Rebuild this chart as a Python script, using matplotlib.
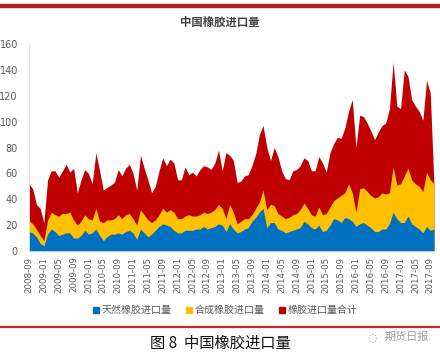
import matplotlib
matplotlib.use('Agg')
import matplotlib.pyplot as plt
import numpy as np
import pandas as pd
from matplotlib.lines import Line2D

plt.rcParams['font.family'] = ['Noto Sans CJK SC', 'DejaVu Sans']

# monthly data, 2008-09 .. 2017-10 (万吨)
months = pd.date_range('2008-09', periods=110, freq='MS').strftime('%Y-%m')

total = [52, 48, 36, 33, 22, 55, 62, 62, 57, 62,
         67, 61, 64, 45, 55, 63, 60, 52, 76, 62,
         47, 49, 51, 53, 63, 58, 64, 67, 60, 47,
         74, 64, 55, 45, 50, 62, 72, 66, 71, 68,
         55, 55, 65, 59, 61, 58, 63, 66, 65, 63,
         68, 78, 62, 76, 74, 70, 53, 54, 58, 59,
         66, 75, 90, 97, 80, 70, 80, 73, 62, 56,
         55, 62, 63, 66, 72, 70, 62, 62, 73, 68,
         61, 76, 83, 88, 87, 95, 108, 117, 80, 105,
         104, 99, 93, 86, 92, 97, 99, 110, 146, 112,
         110, 140, 135, 117, 112, 108, 101, 132, 122, 50]

synthetic = [23.5, 21, 17, 12, 8, 24, 30, 28, 27, 29,
             29, 30, 24, 20, 23, 28, 25, 24, 33, 23,
             22, 24, 24, 25, 28, 25, 28, 29, 25, 20,
             32, 28, 24, 22, 24, 28, 33, 30, 32, 30,
             25, 25, 27, 28, 27, 27, 28, 30, 29, 30,
             32, 36, 33, 25, 36, 30, 21, 23, 25, 25,
             28, 33, 38, 47, 32, 36, 35, 29, 27, 25,
             26, 28, 29, 32, 37, 33, 28, 27, 34, 28,
             29, 34, 39, 41, 43, 45, 52, 45, 30, 48,
             49, 46, 43, 41, 42, 45, 44, 45, 65, 51,
             52, 58, 64, 55, 52, 50, 46, 61, 55, 52]

natural = [15, 14, 11, 6, 4, 13, 17, 15, 12, 13,
           14, 14, 10, 10, 12, 16, 13, 14, 17, 12,
           8, 11, 13, 13, 14, 13, 15, 16, 14, 9,
           17, 14, 11, 13, 16, 19, 21, 20, 19, 16,
           14, 14, 16, 16, 16, 17, 17, 19, 17, 18,
           19, 21, 20, 15, 21, 17, 14, 15, 17, 18,
           23, 26, 30, 33, 18, 22, 22, 17, 16, 14,
           15, 16, 17, 18, 23, 21, 18, 17, 20, 15,
           16, 20, 25, 24, 22, 26, 25, 23, 19, 21,
           22, 20, 18, 15, 15, 17, 17, 21, 30, 25,
           22, 22, 27, 21, 19, 17, 14, 19, 16, 17]

labels = ['天然橡胶进口量', '合成橡胶进口量', '橡胶进口量合计']
colors = ['#0070C0', '#FFC000', '#C00000']

fig = plt.figure(figsize=(4.4, 3.56), dpi=100)
ax = fig.add_axes([29 / 440, 1 - 251 / 356, 405 / 440, 207 / 356])

x = np.arange(len(months))
ax.fill_between(x, 0, total, color=colors[2], lw=0)
ax.fill_between(x, 0, synthetic, color=colors[1], lw=0)
ax.fill_between(x, 0, natural, color=colors[0], lw=0)

ax.set_xlim(0, len(months) - 1)
ax.set_ylim(0, 160)
ax.set_yticks(range(0, 161, 20))
ax.set_xticks(x[::4])
ax.set_xticklabels(months[::4], rotation=90, fontsize=6.2, color='#595959',
                   family=['DejaVu Sans'])
ax.tick_params(axis='y', labelsize=7, colors='#595959', length=0, pad=8)
ax.tick_params(axis='x', length=0, pad=4)
for lab in ax.get_yticklabels():
    lab.set_family(['DejaVu Sans'])
for side in ['top', 'right']:
    ax.spines[side].set_visible(False)
ax.spines['left'].set_color('#e6e6ee')
ax.spines['bottom'].set_color('#d9d9e6')
ax.spines['left'].set_linewidth(0.6)
ax.spines['bottom'].set_linewidth(0.6)

fig.text(0.5, 1 - 22 / 356, '中国橡胶进口量', ha='center', va='center',
         fontsize=8.2, fontweight='bold', color='#404040')

handles = [Line2D([], [], ls='', marker='s', markersize=4.5, color=c) for c in colors]
fig.legend(handles, labels, loc='center', bbox_to_anchor=(0.51, 1 - 310 / 356),
           ncol=3, frameon=False, fontsize=7.2, handletextpad=0.1,
           handlelength=1.0, columnspacing=1.2, labelcolor='#595959')

# red rules and caption
fig.add_artist(Line2D([0, 1], [1 - 6 / 356] * 2, color='#B22222', lw=3.2))
fig.add_artist(Line2D([0, 1], [1 - 327 / 356] * 2, color='#C0282D', lw=1.6))
fig.text(0.5, 1 - 343 / 356, '图 8  中国橡胶进口量', ha='center', va='center',
         fontsize=11, color='#111111')
fig.text(0.925, 1 - 337 / 356, '期货日报', ha='center', va='center',
         fontsize=8, color='#9a9a9a')
fig.text(0.845, 1 - 337 / 356, '◌', ha='center', va='center',
         fontsize=8, color='#b0b0b0', family=['DejaVu Sans'])

fig.savefig('out.png', dpi=100)
